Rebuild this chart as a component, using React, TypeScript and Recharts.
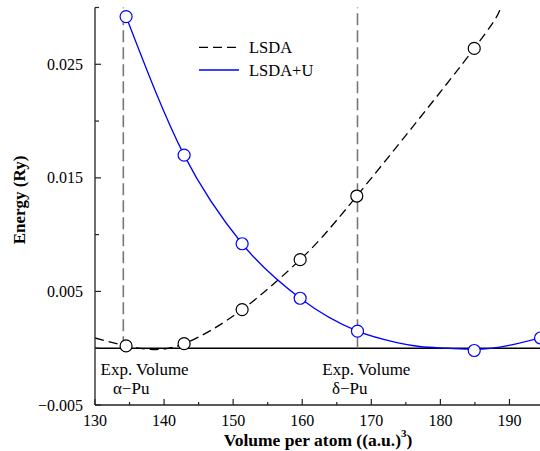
import React from 'react';
import { ComposedChart, Line, Scatter, XAxis, YAxis, ReferenceLine, ReferenceDot } from 'recharts';

// Computed points (markers)
const lsdaVolumes = [134.5, 142.9, 151.3, 159.7, 167.9, 184.9];
const lsdaEnergies = [0.0002, 0.0004, 0.0034, 0.0078, 0.0134, 0.0264];
const lsdaUVolumes = [134.5, 142.9, 151.3, 159.7, 168.0, 184.9, 194.5];
const lsdaUEnergies = [0.0292, 0.017, 0.0092, 0.0044, 0.0015, -0.0002, 0.0009];

// Fitted curves
const lsdaCurveVolumes = [130, 134.5, 138, 142.9, 151.3, 159.7, 167.9, 184.9, 188.5];
const lsdaCurveEnergies = [0.0009, 0.0002, -0.0001, 0.0004, 0.0034, 0.0078, 0.0134, 0.0264, 0.03];
const lsdaUCurveVolumes = [134.5, 142.9, 151.3, 159.7, 168.0, 173.7, 177, 181, 184.9, 195];
const lsdaUCurveEnergies = [0.0292, 0.017, 0.0092, 0.0044, 0.0015, 0.0005, 0.00015, 0.0, -0.0001, 0.001];

// Experimental volumes
const expAlphaVolume = 134.1;
const expDeltaVolume = 168.0;

// Axis ticks
const xTicks = [130, 135, 140, 145, 150, 155, 160, 165, 170, 175, 180, 185, 190, 195];
const xLabeled = [130, 140, 150, 160, 170, 180, 190];
const yTicks = [-0.005, 0, 0.005, 0.01, 0.015, 0.02, 0.025, 0.03];
const yLabeled = [-0.005, 0.005, 0.015, 0.025];

const zip = (xs: number[], ys: number[]) => xs.map((x, i) => ({ x, y: ys[i] }));
const lsdaPts = zip(lsdaVolumes, lsdaEnergies);
const lsdaUPts = zip(lsdaUVolumes, lsdaUEnergies);
const lsdaCurve = zip(lsdaCurveVolumes, lsdaCurveEnergies);
const lsdaUCurve = zip(lsdaUCurveVolumes, lsdaUCurveEnergies);

const FONT = "'Liberation Serif', 'DejaVu Serif', serif";
const TS: React.CSSProperties = { fontFamily: FONT, fontSize: 16 };
const TA: React.CSSProperties = { fontFamily: FONT, fontSize: 17 };
const TL: React.CSSProperties = { fontFamily: FONT, fontSize: 16.5 };
const TSB: React.CSSProperties = { fontFamily: FONT, fontSize: 17.5, fontWeight: 'bold' };
const AXIS = '#222';

const near = (a: number, arr: number[]) => arr.some((v) => Math.abs(v - a) < 1e-9);

const fmtY = (v: number) => (v < 0 ? '\u2212' + Math.abs(v).toFixed(3) : v.toFixed(3));

const BottomTick = (p: any) => {
  const major = near(p.payload.value, xLabeled);
  return (
    <g>
      <line x1={p.x} y1={p.y} x2={p.x} y2={p.y - (major ? 6 : 3)} stroke={AXIS} strokeWidth={1.2} />
      {major && (
        <text x={p.x} y={p.y + 21} textAnchor="middle" style={TS} fill="#000">
          {p.payload.value}
        </text>
      )}
    </g>
  );
};

const TopTick = (p: any) => {
  const major = near(p.payload.value, xLabeled);
  return <line x1={p.x} y1={p.y} x2={p.x} y2={p.y + (major ? 6 : 3)} stroke={AXIS} strokeWidth={1.2} />;
};

const LeftTick = (p: any) => {
  const major = near(p.payload.value, yLabeled);
  return (
    <g>
      <line x1={p.x} y1={p.y} x2={p.x + (major ? 6 : 4)} y2={p.y} stroke={AXIS} strokeWidth={1.2} />
      {major && (
        <text x={p.x - 12} y={p.y + 5.5} textAnchor="end" style={TS} fill="#000">
          {fmtY(p.payload.value)}
        </text>
      )}
    </g>
  );
};

const XTitle = () => (
  <text x={318} y={446} textAnchor="middle" style={TSB} fill="#000">
    <tspan>Volume per atom ((a.u.)</tspan>
    <tspan dy={-9} style={{ fontSize: 11 }}>3</tspan>
    <tspan dy={9}>)</tspan>
  </text>
);

const YTitle = () => (
  <text x={0} y={0} transform="translate(25,200) rotate(-90)" textAnchor="middle" style={{ ...TSB, fontSize: 17 }} fill="#000">
    Energy (Ry)
  </text>
);

const textShape = (txt: string) => (p: any) => (
  <text x={p.cx} y={p.cy} textAnchor="start" style={TA} fill="#000">
    {txt}
  </text>
);

const circleShape = (color: string) => (p: any) => (
  <circle cx={p.cx} cy={p.cy} r={6} fill="#fff" stroke={color} strokeWidth={1.2} />
);

export default function App() {
  return (
    <div style={{ position: 'absolute', left: 0, top: 0, width: 540, height: 451, overflow: 'hidden', background: '#fff' }}>
      <ComposedChart width={545} height={451} margin={{ top: 7.5, right: 1, bottom: 0, left: 0 }}>
        <XAxis
          xAxisId={0}
          dataKey="x"
          type="number"
          domain={[130, 195]}
          ticks={xTicks}
          allowDataOverflow
          interval={0}
          height={46}
          tickSize={0}
          tickMargin={0}
          stroke={AXIS}
          axisLine={{ stroke: AXIS, strokeWidth: 1.3 }}
          tick={BottomTick}
          tickLine={false}
          label={<XTitle />}
        />
        <XAxis
          xAxisId="top"
          orientation="top"
          dataKey="x"
          type="number"
          domain={[130, 195]}
          ticks={xTicks}
          allowDataOverflow
          interval={0}
          height={0}
          tickSize={0}
          tickMargin={0}
          axisLine={{ stroke: AXIS, strokeWidth: 1.3 }}
          tick={TopTick}
          tickLine={false}
        />
        <YAxis
          type="number"
          domain={[-0.005, 0.03]}
          ticks={yTicks}
          allowDataOverflow
          interval={0}
          width={95}
          tickSize={0}
          tickMargin={0}
          axisLine={{ stroke: AXIS, strokeWidth: 1.3 }}
          tick={LeftTick}
          tickLine={false}
          label={<YTitle />}
        />
        <ReferenceLine y={0} stroke="#000" strokeWidth={1.5} />
        <ReferenceLine
          segment={[{ x: expAlphaVolume, y: 0 }, { x: expAlphaVolume, y: 0.03 }]}
          stroke="#777"
          strokeWidth={1.6}
          strokeDasharray="12 5"
        />
        <ReferenceLine
          segment={[{ x: expDeltaVolume, y: 0 }, { x: expDeltaVolume, y: 0.03 }]}
          stroke="#777"
          strokeWidth={1.6}
          strokeDasharray="12 5"
        />
        <Line
          data={lsdaCurve}
          dataKey="y"
          type="natural"
          stroke="#000"
          strokeWidth={1.3}
          strokeDasharray="9 5"
          dot={false}
          activeDot={false}
          isAnimationActive={false}
        />
        <Line
          data={lsdaUCurve}
          dataKey="y"
          type="monotone"
          stroke="#0000ff"
          strokeWidth={1.3}
          dot={false}
          activeDot={false}
          isAnimationActive={false}
        />
        <Scatter data={lsdaPts} dataKey="y" shape={circleShape('#000')} isAnimationActive={false} />
        <Scatter data={lsdaUPts} dataKey="y" shape={circleShape('#0000ff')} isAnimationActive={false} />
        <ReferenceDot x={130.8} y={-0.00233} r={0} shape={textShape('Exp. Volume')} />
        <ReferenceDot x={132.6} y={-0.00401} r={0} shape={textShape('\u03b1\u2212Pu')} />
        <ReferenceDot x={162.9} y={-0.00233} r={0} shape={textShape('Exp. Volume')} />
        <ReferenceDot x={164.3} y={-0.00401} r={0} shape={textShape('\u03b4\u2212Pu')} />
      </ComposedChart>
      <svg width={130} height={50} style={{ position: 'absolute', left: 190, top: 34 }}>
        <line x1={9} y1={13.3} x2={49} y2={13.3} stroke="#000" strokeWidth={1.3} strokeDasharray="9 5" />
        <text x={59} y={19} style={TL} fill="#000">LSDA</text>
        <line x1={9} y1={36} x2={49} y2={36} stroke="#0000ff" strokeWidth={1.3} />
        <text x={59} y={41.7} style={TL} fill="#000">LSDA+U</text>
      </svg>
    </div>
  );
}
